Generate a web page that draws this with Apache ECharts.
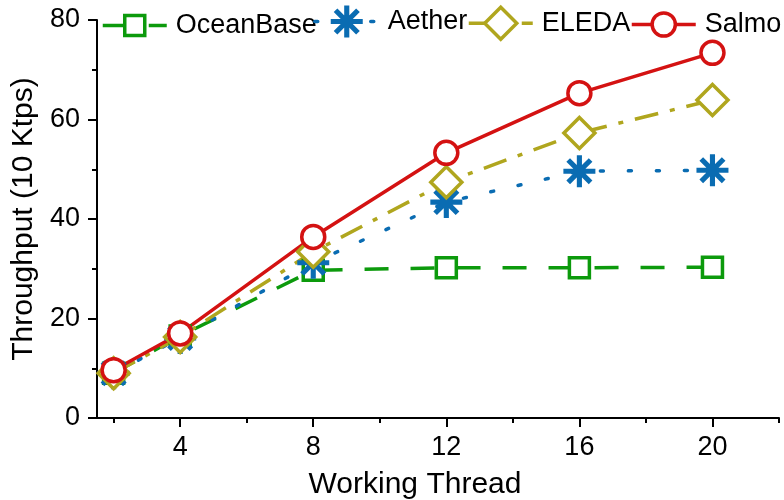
<!DOCTYPE html>
<html>
<head>
<meta charset="utf-8">
<script src="https://cdn.jsdelivr.net/npm/echarts@6/dist/echarts.min.js"></script>
<style>
html,body{margin:0;padding:0;background:#fff;}
#chart{width:784px;height:500px;}
</style>
</head>
<body>
<div id="chart"></div>
<script>
// ---- data ----
var threads = [2, 4, 8, 12, 16, 20];
var seriesNames = ['OceanBase', 'Aether', 'ELEDA', 'Salmo'];
var oceanBase = [9.0, 16.5, 29.7, 30.2, 30.2, 30.3];
var aether    = [9.0, 16.1, 31.2, 43.4, 49.6, 49.8];
var eleda     = [9.0, 16.3, 33.4, 47.4, 57.3, 63.9];
var salmo     = [9.6, 17.0, 36.4, 53.3, 65.3, 73.4];
var xTickValues = [4, 8, 12, 16, 20];
var xMinorTickValues = [2, 6, 10, 14, 18, 22];
var yTickValues = [0, 20, 40, 60, 80];
var xName = 'Working Thread';
var yName = 'Throughput (10 Ktps)';

// ---- styling ----
var FONT = '"Liberation Sans", Arial, sans-serif';
var colors = ['#0c9a0c', '#0a6cb2', '#b0a61e', '#d41212'];
var asterisk = 'path://M42 0L58 0L58 100L42 100Z' +
  'M0 42L100 42L100 58L0 58Z' +
  'M20.7 9.3L90.7 79.3L79.3 90.7L9.3 20.7Z' +
  'M79.3 9.3L90.7 20.7L20.7 90.7L9.3 79.3Z';

function pairs(vals) {
  return threads.map(function (t, i) { return [t, vals[i]]; });
}

var chart = echarts.init(document.getElementById('chart'), null, {renderer: 'canvas'});

function legendFor(name, left, top, itemHeight, borderWidth) {
  return {
    data: [name],
    left: left,
    top: top,
    padding: 0,
    itemWidth: 64,
    itemHeight: itemHeight,
    itemGap: 0,
    selectedMode: false,
    itemStyle: {borderWidth: borderWidth},
    lineStyle: {width: 3.5},
    textStyle: {fontFamily: FONT, fontSize: 27, color: '#000', padding: [0, 0, 0, 4]}
  };
}

var option = {
  animation: false,
  backgroundColor: '#fff',
  legend: [
    legendFor(seriesNames[0], 101, 12, 25, 3.5),
    legendFor(seriesNames[1], 313, 5.5, 40, 0),
    legendFor(seriesNames[2], 467, 5.5, 40, 3.5),
    legendFor(seriesNames[3], 630, 11, 29, 3.5)
  ],
  grid: {left: 97, right: 5, top: 20, bottom: 82, containLabel: false, outerBoundsMode: 'none'},
  xAxis: [{
    type: 'value',
    min: 1.5,
    max: 22,
    name: xName,
    nameLocation: 'middle',
    nameGap: 52,
    nameTextStyle: {fontFamily: FONT, fontSize: 30, color: '#000', padding: [0, 46, 0, 0]},
    axisLine: {show: true, lineStyle: {color: '#000', width: 2}},
    axisTick: {show: true, inside: false, length: 9, customValues: xTickValues, lineStyle: {color: '#000', width: 2}},
    axisLabel: {fontFamily: FONT, fontSize: 27, color: '#000', margin: 16, customValues: xTickValues},
    splitLine: {show: false}
  }, {
    type: 'value',
    min: 1.5,
    max: 22,
    position: 'bottom',
    axisLine: {show: false},
    axisTick: {show: true, inside: false, length: 5, customValues: xMinorTickValues, lineStyle: {color: '#000', width: 2}},
    axisLabel: {show: false},
    splitLine: {show: false}
  }],
  yAxis: {
    type: 'value',
    min: 0,
    max: 80,
    interval: 20,
    name: yName,
    nameLocation: 'middle',
    nameGap: 50,
    nameTextStyle: {fontFamily: FONT, fontSize: 30, color: '#000'},
    axisLine: {show: true, lineStyle: {color: '#000', width: 2}},
    axisTick: {show: true, inside: false, length: 9, lineStyle: {color: '#000', width: 2}},
    minorTick: {show: true, splitNumber: 2, length: 5, lineStyle: {color: '#000', width: 2}},
    axisLabel: {fontFamily: FONT, fontSize: 27, color: '#000', margin: 17,
      customValues: yTickValues},
    splitLine: {show: false},
    minorSplitLine: {show: false}
  },
  series: [{
    name: seriesNames[0],
    type: 'line',
    data: pairs(oceanBase),
    symbol: 'rect',
    symbolSize: 20,
    lineStyle: {color: colors[0], width: 3.5, type: [24, 22]},
    itemStyle: {color: '#fff', borderColor: colors[0], borderWidth: 3.5}
  }, {
    name: seriesNames[1],
    type: 'line',
    data: pairs(aether),
    symbol: asterisk,
    symbolSize: 32,
    lineStyle: {color: colors[1], width: 3.5, type: [3, 25], cap: 'round'},
    itemStyle: {color: colors[1], borderColor: colors[1], borderWidth: 0}
  }, {
    name: seriesNames[2],
    type: 'line',
    data: pairs(eleda),
    symbol: 'diamond',
    symbolSize: 31,
    lineStyle: {color: colors[2], width: 3.5, type: [24, 12, 5, 12]},
    itemStyle: {color: '#fff', borderColor: colors[2], borderWidth: 3.5}
  }, {
    name: seriesNames[3],
    type: 'line',
    data: pairs(salmo),
    symbol: 'circle',
    symbolSize: 23,
    lineStyle: {color: colors[3], width: 3.5, type: 'solid'},
    itemStyle: {color: '#fff', borderColor: colors[3], borderWidth: 3.5}
  }]
};
chart.setOption(option);
</script>
</body>
</html>
